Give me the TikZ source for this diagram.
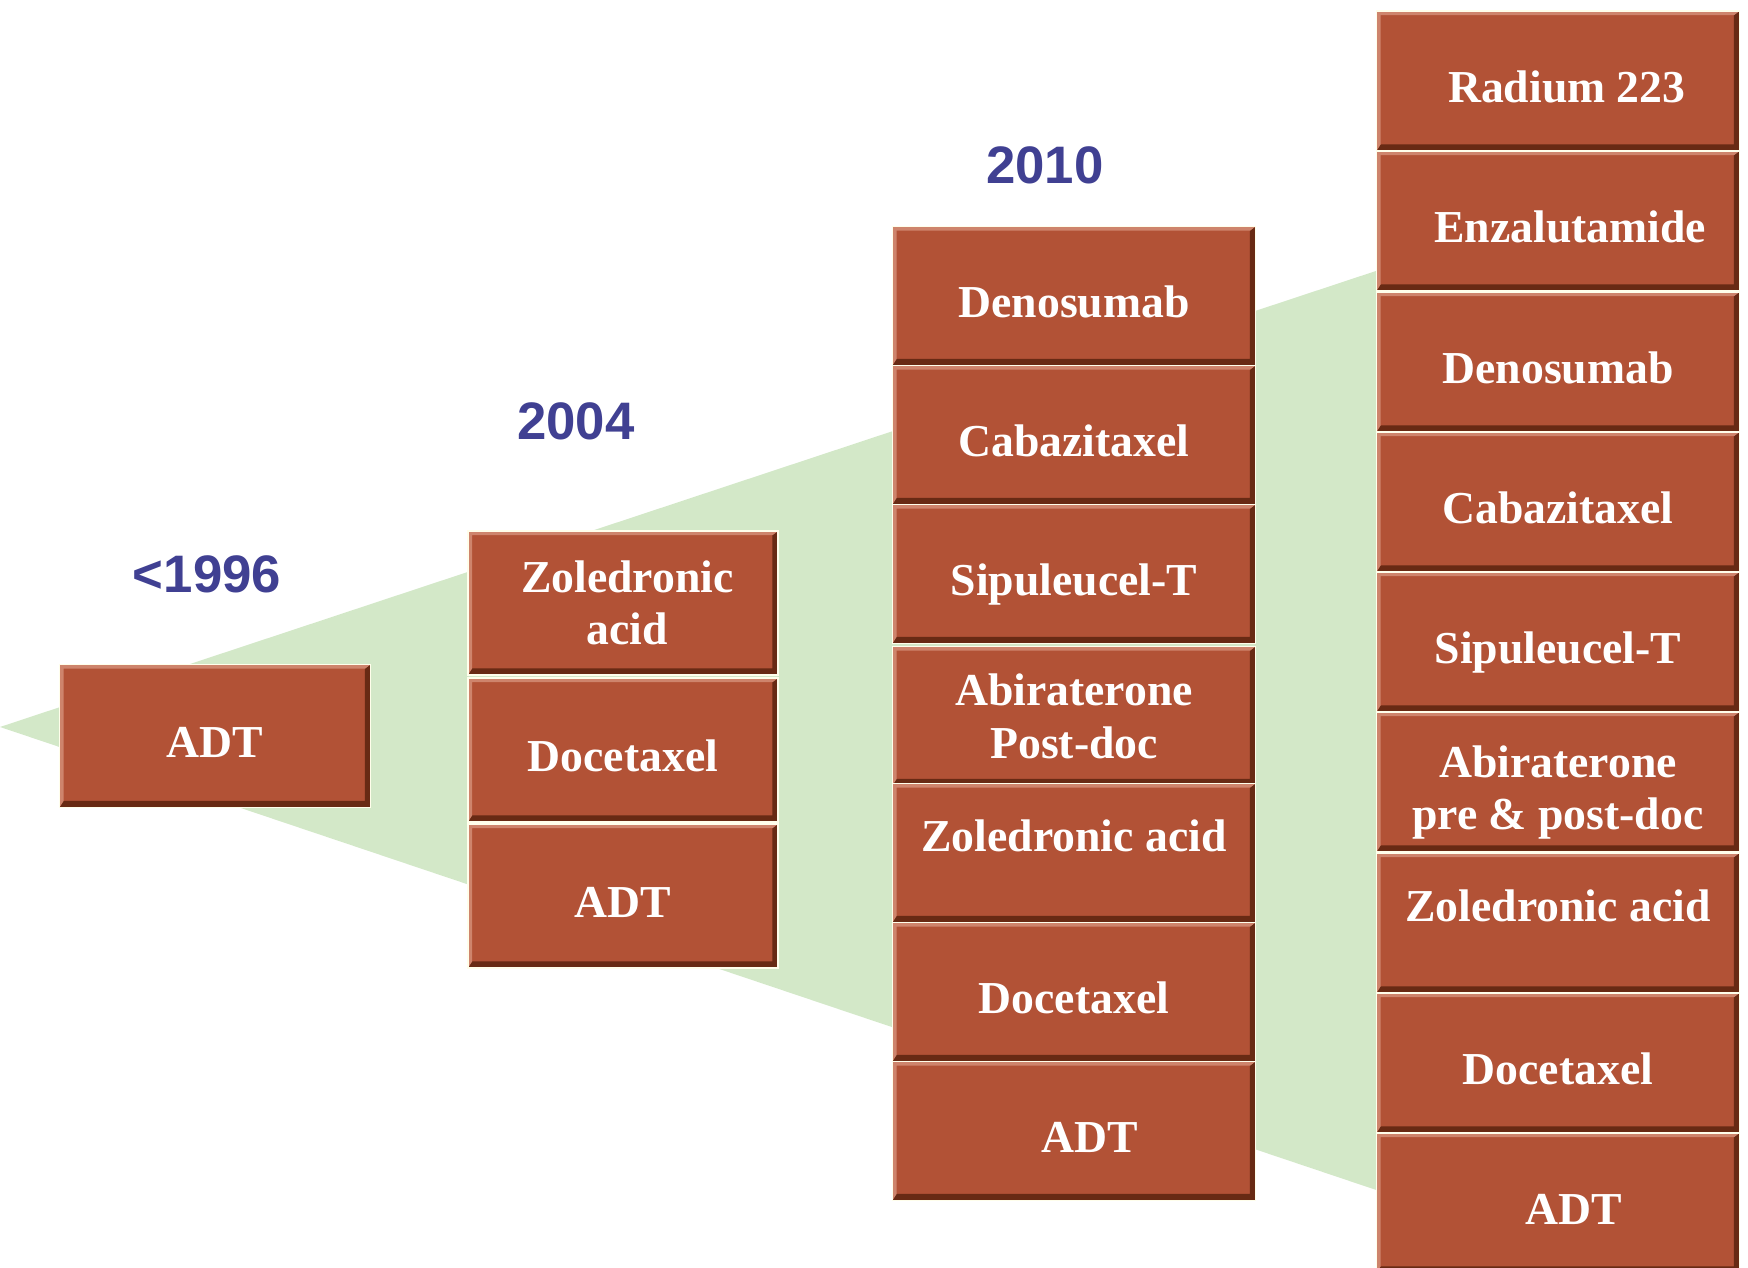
\documentclass[tikz,border=0pt]{standalone}
\usepackage{fontspec}
\setmainfont{Liberation Serif}
\newfontfamily\yearfont{Liberation Sans}
\definecolor{brickred}{RGB}{178,82,54}
\definecolor{brickdark}{RGB}{104,42,20}
\definecolor{bricklight}{RGB}{206,132,108}
\definecolor{wedgegreen}{RGB}{211,232,200}
\definecolor{yearblue}{RGB}{64,64,146}

\begin{document}
\begin{tikzpicture}[x=0.01cm, y=-0.01cm,
    brick/.style = {fill=brickred, draw=white!92!yellow, line width=0.45pt, text=white, align=center, inner sep=0pt,
        font=\bfseries\fontsize{13}{15}\selectfont, text height=12.5pt, text depth=0pt,
        minimum width=3.63cm, minimum height=1.40cm,
        path picture={
            \fill[brickdark] (path picture bounding box.south west) -- (path picture bounding box.south east)
                -- (path picture bounding box.north east) -- ([shift={(-1.6pt,-1.2pt)}]path picture bounding box.north east)
                -- ([shift={(-1.6pt,1.9pt)}]path picture bounding box.south east)
                -- ([shift={(1.2pt,1.9pt)}]path picture bounding box.south west) -- cycle;
            \fill[bricklight] (path picture bounding box.south west) -- (path picture bounding box.north west)
                -- (path picture bounding box.north east) -- ([shift={(-1.6pt,-1.2pt)}]path picture bounding box.north east)
                -- ([shift={(1.2pt,-1.2pt)}]path picture bounding box.north west)
                -- ([shift={(1.2pt,1.9pt)}]path picture bounding box.south west) -- cycle;
        }},
    twoline/.style = {text height=, text depth=},
    raised/.style = {text height=8.5pt, text depth=9.5pt},
    year/.style = {text=yearblue, font=\yearfont\bfseries\fontsize{15}{18}\selectfont}]
    \useasboundingbox (0,0) rectangle (1748,1268);
    % growing wedge behind the bricks
    \fill[wedgegreen] (0,727) -- (1400,263) -- (1400,1198) -- cycle;

    % before 1996
    \node[year] (yearA) at (207,574) {<1996};
    \node[brick, minimum width=3.11cm, minimum height=1.43cm] (adtA) at (215,736) {ADT};

    % 2004
    \node[year] (yearB) at (576,421) {2004};
    \node[brick, twoline, minimum width=3.1cm, minimum height=1.44cm] (zolB) at (623,603) {\hspace*{2.5pt}Zoledronic\\\hspace*{2.5pt}acid};
    \node[brick, minimum width=3.1cm, minimum height=1.44cm] (docB) at (623,750) {Docetaxel};
    \node[brick, minimum width=3.1cm, minimum height=1.44cm] (adtB) at (623,896) {ADT};

    % 2010
    \node[year] (yearC) at (1045,165) {2010};
    \node[brick, minimum height=1.39cm] (denC) at (1074,296) {Denosumab};
    \node[brick, minimum height=1.39cm] (cabC) at (1074,435) {Cabazitaxel};
    \node[brick, minimum height=1.39cm] (sipC) at (1074,574) {Sipuleucel-T};
    \node[brick, twoline, minimum height=1.39cm] (abiC) at (1074,716) {Abiraterone\\Post-doc};
    \node[brick, raised, minimum height=1.39cm] (zolC) at (1074,853) {Zoledronic acid};
    \node[brick, minimum height=1.39cm] (docC) at (1074,992) {Docetaxel};
    \node[brick, minimum height=1.39cm] (adtC) at (1074,1131) {\hspace*{9pt}ADT};

    % today
    \node[brick] (radD) at (1558,81) {\hspace*{5pt}Radium 223};
    \node[brick] (enzD) at (1558,221) {\hspace*{7pt}Enzalutamide};
    \node[brick] (denD) at (1558,362) {Denosumab};
    \node[brick] (cabD) at (1558,502) {Cabazitaxel};
    \node[brick] (sipD) at (1558,642) {Sipuleucel-T};
    \node[brick, twoline] (abiD) at (1558,782) {\rule{0pt}{15pt}Abiraterone\\pre \& post-doc};
    \node[brick, raised] (zolD) at (1558,923) {Zoledronic acid};
    \node[brick] (docD) at (1558,1063) {Docetaxel};
    \node[brick] (adtD) at (1558,1203) {\hspace*{9pt}ADT};
\end{tikzpicture}
\end{document}
